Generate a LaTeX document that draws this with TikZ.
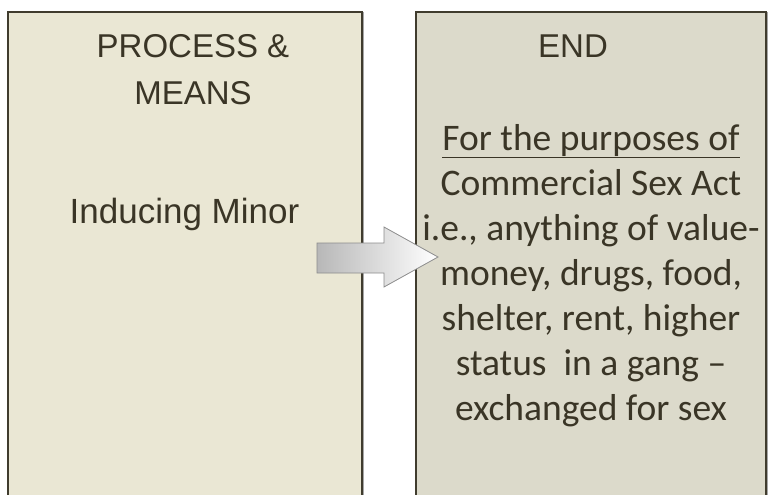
\documentclass[tikz,border=0pt]{standalone}
\usepackage{fontspec}
\setmainfont{Carlito}
\newfontfamily\headfont{Liberation Sans}
\usetikzlibrary{calc}

\begin{document}
\begin{tikzpicture}[x=1pt,y=-1pt]
    \definecolor{fillL}{RGB}{234,231,212}   % caja izquierda
    \definecolor{fillR}{RGB}{220,218,203}   % caja derecha
    \definecolor{edge}{RGB}{64,60,46}
    \definecolor{ink}{RGB}{58,53,38}
    \tikzset{
      box/.style={draw=edge, line width=1.5pt, inner sep=0pt, minimum height=508pt},
      head/.style={anchor=base, text=ink, font=\headfont\fontsize{33}{47}\selectfont},
      body/.style={anchor=base, text=ink, font=\fontsize{37.5}{45}\selectfont}
    }
    \useasboundingbox (0,0) rectangle (769,495);
    \clip (0,0) rectangle (769,495);

    % sombras y cajas
    \fill[black!35] (10,12) rectangle (364,520);
    \fill[black!35] (418,12) rectangle (768,520);
    \node (means) at (185,266) [box, fill=fillL, minimum width=354pt] {};
    \node (end) at (591,266) [box, fill=fillR, minimum width=350pt] {};

    % flecha
    \coordinate (tail) at (317,258);
    \coordinate (tip) at (438,257);
    \shade[left color=black!28, right color=white, draw=black!45, line width=0.8pt]
      (tail) ++(0,-15) -- (384,243) -- (384,227) -- (tip) -- (384,287) -- (384,273) -- ($(tail)+(0,15)$) -- cycle;

    % titulos
    \node (h1) at (193,58) [head] {PROCESS \&};
    \node (h2) at (193,105) [head] {MEANS};
    \node (h3) at (573,58) [head] {END};
    \node (induce) at (184.5,223) [head, font=\headfont\fontsize{35}{42}\selectfont] {Inducing Minor};

    % texto de la derecha
    \foreach \t [count=\i] in {\underline{For the purposes of}, Commercial Sex Act,
        {i.e., anything of value-}, {money, drugs, food,}, {shelter, rent, higher},
        status\ \ in a gang --, exchanged for sex}
      \node (line\i) at (591,105+45*\i) [body] {\t};
  \end{tikzpicture}
\end{document}
